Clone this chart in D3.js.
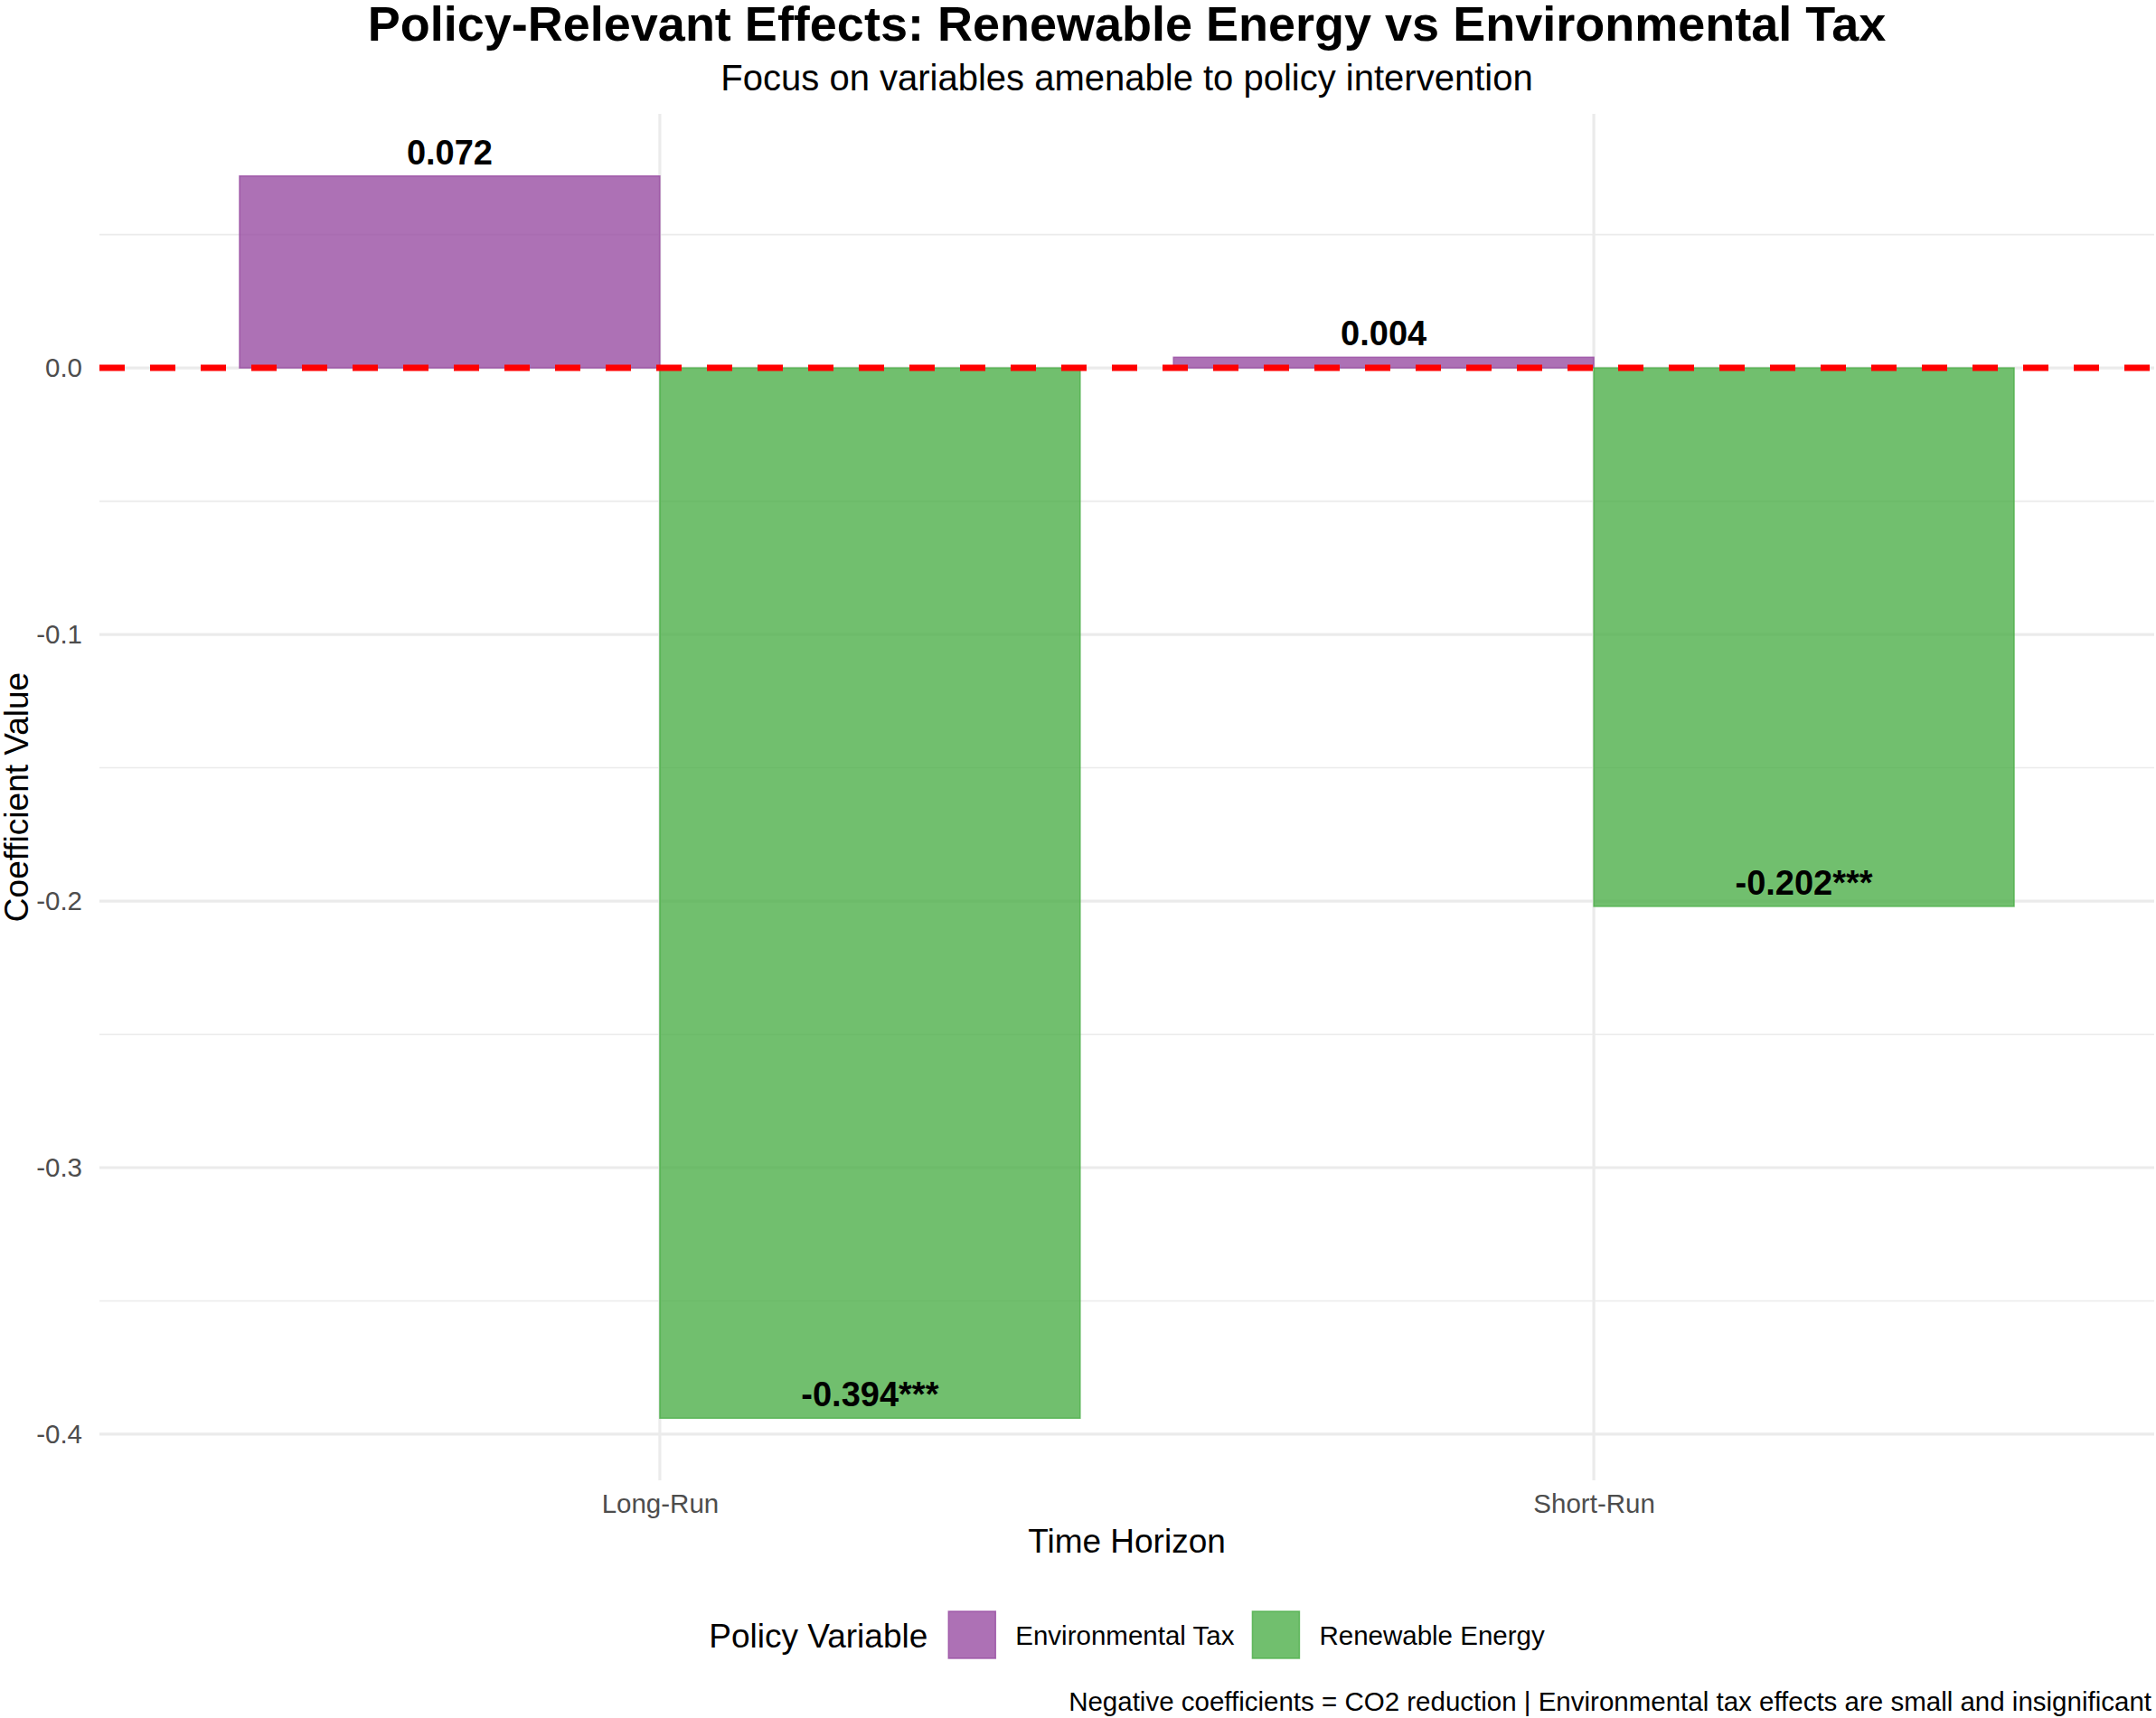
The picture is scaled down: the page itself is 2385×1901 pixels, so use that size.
<!DOCTYPE html>
<html>
<head>
<meta charset="utf-8">
<script src="https://cdn.jsdelivr.net/npm/d3@7"></script>
<style>
  body { margin: 0; background: #fff; }
  svg { display: block; font-family: "Liberation Sans", Arial, sans-serif; }
</style>
</head>
<body>
<svg width="2385" height="1901"></svg>
<script>
// Data
const horizons = ["Long-Run", "Short-Run"];
const variables = ["Environmental Tax", "Renewable Energy"];
const envTax = [0.072, 0.004];
const renewable = [-0.394, -0.202];
const envTaxStars = ["", ""];
const renewableStars = ["***", "***"];
const yTicks = [0, -0.1, -0.2, -0.3, -0.4];
const yMinor = [0.05, -0.05, -0.15, -0.25, -0.35];
const colors = ["#984EA3", "#4DAF4A"];

// rows for drawing
const rows = [];
horizons.forEach((h, i) => {
  rows.push({horizon: h, variable: variables[0], value: envTax[i], stars: envTaxStars[i]});
  rows.push({horizon: h, variable: variables[1], value: renewable[i], stars: renewableStars[i]});
});

const panel = {left: 110, right: 2383, top: 126, bottom: 1638};

// plain hyphen minus, like the original
const fmt = f => v => d3.format(f)(v).replace("\u2212", "-");

const svg = d3.select("svg");

// y scale with ggplot-like 5% expansion
const vmin = d3.min(rows, d => d.value), vmax = d3.max(rows, d => d.value);
const pad = (vmax - vmin) * 0.05;
const y = d3.scaleLinear()
            .domain([vmin - pad, vmax + pad])
            .range([panel.bottom, panel.top]);

// x scale: discrete with 0.6 expansion on each side
const x = d3.scalePoint()
            .domain(horizons)
            .range([panel.left, panel.right])
            .padding(0.6);
const step = x.step();
const sub = d3.scaleBand()
              .domain(variables)
              .range([-0.45 * step, 0.45 * step]);

const color = d3.scaleOrdinal().domain(variables).range(colors);

// grid: minor horizontal
svg.append("g")
   .selectAll("line")
   .data(yMinor)
   .enter()
   .append("line")
   .attr("x1", panel.left).attr("x2", panel.right)
   .attr("y1", d => y(d)).attr("y2", d => y(d))
   .attr("stroke", "#EBEBEB")
   .attr("stroke-width", 1.6);

// grid: major horizontal
svg.append("g")
   .selectAll("line")
   .data(yTicks)
   .enter()
   .append("line")
   .attr("x1", panel.left).attr("x2", panel.right)
   .attr("y1", d => y(d)).attr("y2", d => y(d))
   .attr("stroke", "#EBEBEB")
   .attr("stroke-width", 3.2);

// grid: major vertical
svg.append("g")
   .selectAll("line")
   .data(horizons)
   .enter()
   .append("line")
   .attr("x1", d => x(d)).attr("x2", d => x(d))
   .attr("y1", panel.top).attr("y2", panel.bottom)
   .attr("stroke", "#EBEBEB")
   .attr("stroke-width", 3.2);

// y axis tick labels
const yAxis = svg.append("g")
   .attr("transform", `translate(${panel.left - 7},0)`)
   .call(d3.axisLeft(y).tickValues(yTicks).tickFormat(fmt(".1f")).tickSize(0).tickPadding(12));
yAxis.select(".domain").remove();
yAxis.selectAll("text")
     .attr("font-size", "29.5px")
     .attr("font-family", "Liberation Sans, Arial, sans-serif")
     .attr("fill", "#4D4D4D");

// x axis tick labels
const xAxis = svg.append("g")
   .attr("transform", `translate(0,${panel.bottom})`)
   .call(d3.axisBottom(x).tickSize(0).tickPadding(15));
xAxis.select(".domain").remove();
xAxis.selectAll("text")
     .attr("font-size", "29.5px")
     .attr("font-family", "Liberation Sans, Arial, sans-serif")
     .attr("fill", "#4D4D4D");

// bars
svg.append("g")
   .selectAll("rect")
   .data(rows)
   .enter()
   .append("rect")
   .attr("x", d => x(d.horizon) + sub(d.variable))
   .attr("width", sub.bandwidth())
   .attr("y", d => y(Math.max(0, d.value)))
   .attr("height", d => Math.abs(y(d.value) - y(0)))
   .attr("fill", d => color(d.variable))
   .attr("fill-opacity", 0.8)
   .attr("stroke", d => color(d.variable))
   .attr("stroke-opacity", 0.8)
   .attr("stroke-width", 1.5);

// zero reference line
svg.append("line")
   .attr("x1", panel.left).attr("x2", panel.right)
   .attr("y1", y(0)).attr("y2", y(0))
   .attr("stroke", "#FF0000")
   .attr("stroke-width", 7)
   .attr("stroke-dasharray", "28,28");

// value labels
svg.append("g")
   .selectAll("text")
   .data(rows)
   .enter()
   .append("text")
   .attr("x", d => x(d.horizon) + sub(d.variable) + sub.bandwidth() / 2)
   .attr("y", d => y(d.value) - 13)
   .attr("text-anchor", "middle")
   .attr("font-size", "38px")
   .attr("font-weight", "bold")
   .attr("fill", "#000")
   .text(d => fmt(".3f")(d.value) + d.stars);

// titles
svg.append("text")
   .attr("x", (panel.left + panel.right) / 2)
   .attr("y", 45)
   .attr("text-anchor", "middle")
   .attr("font-size", "54px")
   .attr("font-weight", "bold")
   .text("Policy-Relevant Effects: Renewable Energy vs Environmental Tax");

svg.append("text")
   .attr("x", (panel.left + panel.right) / 2)
   .attr("y", 100)
   .attr("text-anchor", "middle")
   .attr("font-size", "40px")
   .text("Focus on variables amenable to policy intervention");

// axis titles
svg.append("text")
   .attr("x", (panel.left + panel.right) / 2)
   .attr("y", 1718)
   .attr("text-anchor", "middle")
   .attr("font-size", "37px")
   .text("Time Horizon");

svg.append("text")
   .attr("transform", `translate(31,${(panel.top + panel.bottom) / 2}) rotate(-90)`)
   .attr("text-anchor", "middle")
   .attr("font-size", "37px")
   .text("Coefficient Value");

// legend, centred under the panel
const legend = svg.append("g");
const legTitle = legend.append("text")
   .attr("y", 1823)
   .attr("font-size", "37px")
   .text("Policy Variable");
let cursor = legTitle.node().getComputedTextLength() + 23;
variables.forEach((v, i) => {
  legend.append("rect")
        .attr("x", cursor)
        .attr("y", 1783)
        .attr("width", 52)
        .attr("height", 52)
        .attr("fill", color(v))
        .attr("fill-opacity", 0.8)
        .attr("stroke", color(v))
        .attr("stroke-opacity", 0.8)
        .attr("stroke-width", 1.5);
  cursor += 52 + 22;
  const t = legend.append("text")
        .attr("x", cursor)
        .attr("y", 1820)
        .attr("font-size", "29.5px")
        .text(v);
  cursor += t.node().getComputedTextLength() + (i < variables.length - 1 ? 20 : 0);
});
legend.attr("transform", `translate(${(panel.left + panel.right) / 2 - cursor / 2},0)`);

// caption
svg.append("text")
   .attr("x", 2380)
   .attr("y", 1893)
   .attr("text-anchor", "end")
   .attr("font-size", "29.5px")
   .text("Negative coefficients = CO2 reduction | Environmental tax effects are small and insignificant");
</script>
</body>
</html>
